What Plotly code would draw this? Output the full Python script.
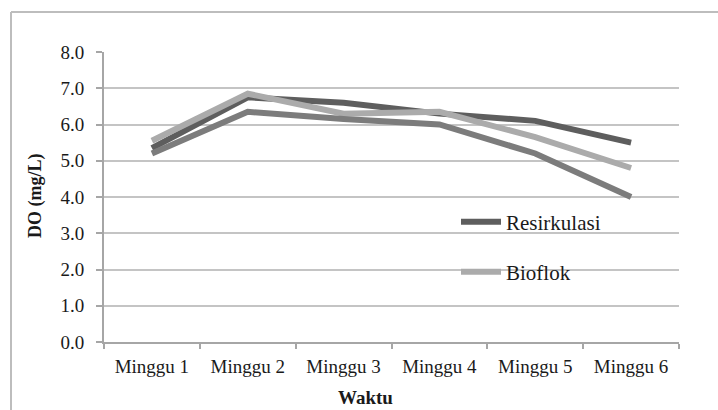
import plotly.graph_objects as go

# Weekly dissolved oxygen readings (mg/L)
minggu = ["Minggu 1", "Minggu 2", "Minggu 3", "Minggu 4", "Minggu 5", "Minggu 6"]
resirkulasi = [5.35, 6.75, 6.60, 6.30, 6.10, 5.50]
bioflok = [5.55, 6.85, 6.30, 6.35, 5.65, 4.80]
seri_ketiga = [5.20, 6.35, 6.15, 6.00, 5.20, 4.00]
y_ticks = [0, 1, 2, 3, 4, 5, 6, 7, 8]

W, H = 718, 410
L, R, T, B = 104, 39, 52, 68
pw, ph = W - L - R, H - T - B

serif = "Liberation Serif"

fig = go.Figure()
fig.add_trace(go.Scatter(x=minggu, y=resirkulasi, mode="lines", name="Resirkulasi",
                         line=dict(color="#5e5e5e", width=6), legend="legend"))
fig.add_trace(go.Scatter(x=minggu, y=bioflok, mode="lines", name="Bioflok",
                         line=dict(color="#ababab", width=6), legend="legend2"))
fig.add_trace(go.Scatter(x=minggu, y=seri_ketiga, mode="lines", name="Seri 3",
                         line=dict(color="#7c7c7c", width=6), showlegend=False))

def px_x(x):
    return (x - L) / pw

def px_y(y):
    return (H - B - y) / ph

legend_style = dict(font=dict(family=serif, size=21, color="#1a1a1a"),
                    bgcolor="rgba(0,0,0,0)", xanchor="left", yanchor="middle",
                    itemwidth=40)

fig.update_layout(
    width=W, height=H,
    margin=dict(l=L, r=R, t=T, b=B, pad=0),
    paper_bgcolor="white", plot_bgcolor="white",
    font=dict(family=serif, size=19, color="#1a1a1a"),
    legend=dict(x=px_x(456), y=px_y(222), **legend_style),
    legend2=dict(x=px_x(456), y=px_y(272), **legend_style),
    xaxis=dict(
        type="category", range=[-0.5, 5.5],
        showline=True, linecolor="#a6a6a6", linewidth=2,
        ticks="outside", tickson="boundaries", ticklen=5, tickcolor="#a6a6a6", tickwidth=1.5,
        showgrid=False, ticklabelstandoff=6,
        tickfont=dict(family=serif, size=19, color="#1a1a1a"),
    ),
    yaxis=dict(
        range=[0, 8], tickvals=y_ticks, tickformat=".1f",
        showline=True, linecolor="#a6a6a6", linewidth=2,
        ticks="outside", ticklen=6, tickcolor="#a6a6a6", tickwidth=1.5,
        showgrid=True, gridcolor="#c4c4c4", gridwidth=1.5,
        zeroline=False, ticklabelstandoff=8,
        tickfont=dict(family=serif, size=19, color="#1a1a1a"),
    ),
    annotations=[
        dict(text="<b>DO (mg/L)</b>", textangle=-90, xref="paper", yref="paper",
             x=px_x(35), y=px_y(196), xanchor="center", yanchor="middle",
             showarrow=False, font=dict(family=serif, size=18, color="#1a1a1a")),
        dict(text="<b>Waktu</b>", xref="paper", yref="paper",
             x=px_x(365), y=px_y(397), xanchor="center", yanchor="middle",
             showarrow=False, font=dict(family=serif, size=19, color="#1a1a1a")),
    ],
    shapes=[
        # chart frame (top and left edges visible)
        dict(type="line", xref="paper", yref="paper",
             x0=px_x(11), x1=px_x(720), y0=px_y(12), y1=px_y(12),
             line=dict(color="#bdbdbd", width=2)),
        dict(type="line", xref="paper", yref="paper",
             x0=px_x(11), x1=px_x(11), y0=px_y(12), y1=px_y(412),
             line=dict(color="#bdbdbd", width=2)),
    ],
)

fig.write_html("out.html")
